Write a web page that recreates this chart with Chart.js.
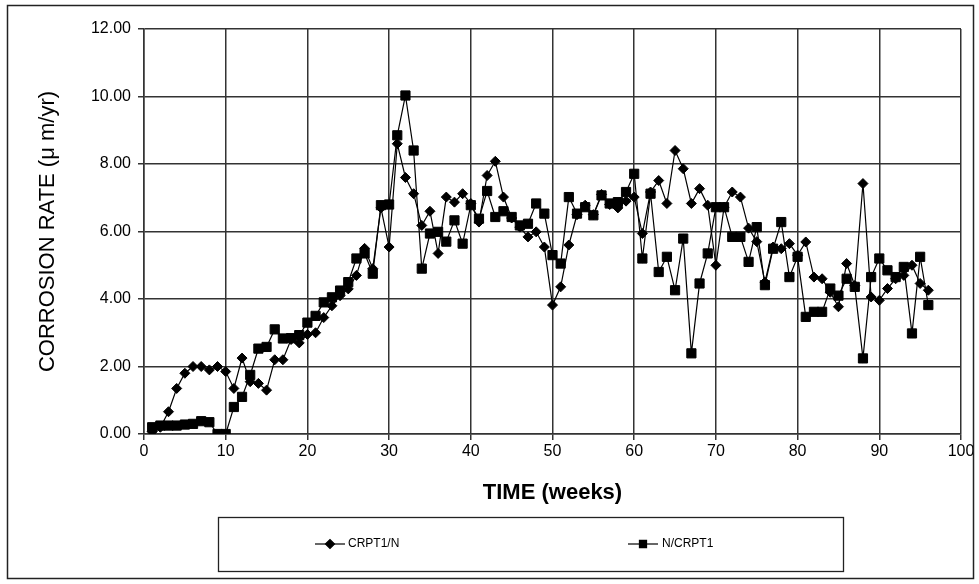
<!DOCTYPE html>
<html>
<head>
<meta charset="utf-8">
<script src="https://cdn.jsdelivr.net/npm/chart.js@4.4.1/dist/chart.umd.min.js"></script>
<style>
  html, body { margin: 0; padding: 0; background: #fff; }
  #wrap { width: 979px; height: 584px; }
</style>
</head>
<body>
<div id="wrap"><canvas id="rateChart" width="979" height="584"></canvas></div>
<script>
let weeks = [1,2,3,4,5,6,7,8,9,10,11,12,13,14,15,16,17,18,19,20,
    21,22,23,24,25,26,27,28,29,30,31,32,33,34,35,36,37,38,39,40,
    41,42,43,44,45,46,47,48,49,50,51,52,53,54,55,56,57,58,59,60,
    61,62,63,64,65,66,67,68,69,70,71,72,73,74,75,76,77,78,79,80,
    81,82,83,84,85,86,87,88,89,90,91,92,93,94,95,96];

let crpt1n = [0.07,0.2,0.66,1.35,1.8,2.0,2.0,1.9,2.0,1.85,
    1.35,2.25,1.55,1.5,1.3,2.2,2.2,2.8,2.7,2.95,
    3.0,3.45,3.8,4.1,4.3,4.7,5.5,4.9,6.7,5.54,
    8.6,7.6,7.12,6.18,6.6,5.35,7.02,6.87,7.12,6.83,
    6.28,7.66,8.08,7.02,6.4,6.13,5.84,5.99,5.54,3.82,
    4.36,5.6,6.5,6.78,6.5,7.1,6.8,6.7,6.9,7.02,
    5.94,7.17,7.51,6.83,8.4,7.86,6.83,7.27,6.78,5.0,
    6.72,7.17,7.02,6.1,5.7,4.5,5.54,5.49,5.64,5.3,
    5.69,4.65,4.6,4.2,3.77,5.05,4.4,7.42,4.06,3.96,
    4.31,4.6,4.7,5.0,4.46,4.26];

let ncrpt1 = [0.2,0.25,0.25,0.25,0.28,0.3,0.38,0.35,0.0,0.0,
    0.8,1.1,1.75,2.53,2.58,3.1,2.83,2.84,2.93,3.3,
    3.5,3.9,4.05,4.25,4.5,5.2,5.35,4.75,6.78,6.8,
    8.85,10.03,8.4,4.9,5.94,5.99,5.7,6.33,5.64,6.78,
    6.38,7.2,6.43,6.6,6.43,6.18,6.23,6.83,6.53,5.3,
    5.05,7.02,6.53,6.72,6.48,7.07,6.83,6.87,7.17,7.71,
    5.2,7.12,4.8,5.25,4.26,5.79,2.39,4.46,5.35,6.72,
    6.72,5.84,5.84,5.1,6.13,4.41,5.49,6.28,4.65,5.25,
    3.47,3.62,3.62,4.31,4.1,4.6,4.36,2.24,4.65,5.2,
    4.85,4.65,4.95,2.98,5.25,3.82];

let seriesNames = ["CRPT1/N", "N/CRPT1"];
let seriesMarkers = ["rectRot", "rect"];

function points(vals) {
    return weeks.map((w, i) => ({ x: w, y: vals[i] }));
}

// outer frame + boxed legend under the axis title
const framePlugin = {
    id: 'frame',
    afterDraw(chart) {
        const ctx = chart.ctx;
        ctx.save();
        ctx.strokeStyle = '#222';
        ctx.lineWidth = 1.5;
        ctx.strokeRect(7.5, 5.5, 966, 573);

        ctx.lineWidth = 1.3;
        ctx.strokeRect(218.5, 517.5, 625, 54);

        let items = [[315, 348], [628, 662]];
        for (let i = 0; i < 2; i++) {
            let x0 = items[i][0], tx = items[i][1], y = 544;
            ctx.strokeStyle = '#000';
            ctx.lineWidth = 1.2;
            ctx.beginPath();
            ctx.moveTo(x0, y);
            ctx.lineTo(x0 + 30, y);
            ctx.stroke();
            Chart.helpers.drawPoint(ctx, {
                pointStyle: seriesMarkers[i],
                radius: i == 0 ? 4.5 : 5,
                borderWidth: 1
            }, x0 + 15, y);
            ctx.fillStyle = '#000';
            ctx.font = '12px "Liberation Sans", Arial, sans-serif';
            ctx.textBaseline = 'middle';
            ctx.fillText(seriesNames[i], tx, y);
        }
        ctx.restore();
    }
};

function graph() {
    const gridCol = '#333';
    const tickFont = { family: '"Liberation Sans", Arial, sans-serif', size: 16 };

    new Chart(document.getElementById("rateChart"), {
        type: 'line',
        data: {
            datasets: [
                {
                    label: seriesNames[0],
                    data: points(crpt1n),
                    borderColor: '#000',
                    backgroundColor: '#000',
                    borderWidth: 1.2,
                    pointStyle: 'rectRot',
                    pointRadius: 5,
                    pointBorderWidth: 1,
                    tension: 0
                },
                {
                    label: seriesNames[1],
                    data: points(ncrpt1),
                    borderColor: '#000',
                    backgroundColor: '#000',
                    borderWidth: 1.2,
                    pointStyle: 'rect',
                    pointRadius: 6.5,
                    pointBorderWidth: 1,
                    tension: 0
                }
            ]
        },
        options: {
            responsive: false,
            animation: false,
            layout: { padding: { left: 0, right: 18, top: 29, bottom: 0 } },
            plugins: {
                legend: { display: false },
                tooltip: { enabled: false }
            },
            scales: {
                x: {
                    type: 'linear',
                    min: 0,
                    max: 100,
                    ticks: { stepSize: 10, color: '#000', font: tickFont, padding: 2, maxRotation: 0 },
                    grid: { color: gridCol, lineWidth: 1.5, tickLength: 6, tickColor: gridCol },
                    border: { color: gridCol, width: 1.5 },
                    title: {
                        display: true,
                        text: 'TIME (weeks)',
                        color: '#000',
                        font: { family: '"Liberation Sans", Arial, sans-serif', size: 22, weight: 'bold' },
                        padding: { top: 0, bottom: 78 }
                    },
                    afterFit: s => { s.height = 150; }
                },
                y: {
                    min: 0,
                    max: 12,
                    ticks: {
                        stepSize: 2,
                        color: '#000',
                        font: tickFont,
                        padding: 7,
                        callback: v => v.toFixed(2)
                    },
                    grid: { color: gridCol, lineWidth: 1.5, tickLength: 6, tickColor: gridCol },
                    border: { color: gridCol, width: 1.5 },
                    title: {
                        display: true,
                        text: 'CORROSION RATE (\u03BC m/yr)',
                        color: '#000',
                        font: { family: '"Liberation Sans", Arial, sans-serif', size: 22 },
                        padding: { top: 35, bottom: 0 }
                    },
                    afterFit: s => { s.width = 144; }
                }
            }
        },
        plugins: [framePlugin]
    });
}

graph();
</script>
</body>
</html>
